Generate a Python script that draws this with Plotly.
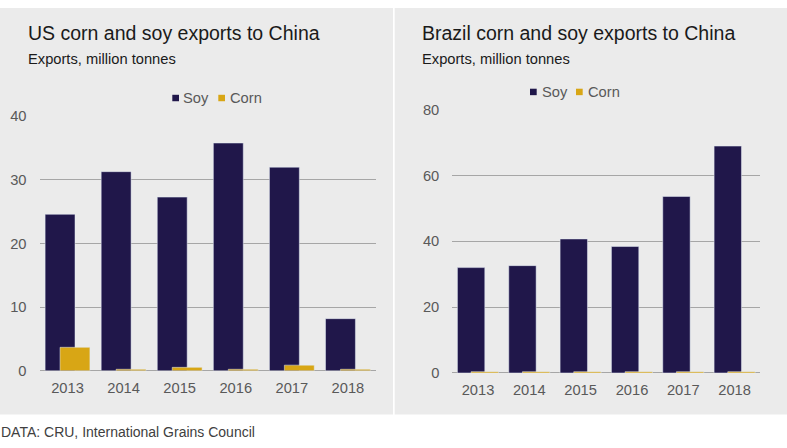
import plotly.graph_objects as go

years = ["2013", "2014", "2015", "2016", "2017", "2018"]
us_soy = [24.6, 31.3, 27.3, 35.8, 32.0, 8.2]
us_corn = [3.7, 0.25, 0.55, 0.25, 0.9, 0.25]
br_soy = [32.0, 32.6, 40.7, 38.4, 53.6, 68.9]
br_corn = [0.4, 0.4, 0.4, 0.4, 0.4, 0.4]
us_ticks = [0, 10, 20, 30, 40]
br_ticks = [0, 20, 40, 60, 80]

W, H = 787, 448
SOY = "#20174a"
CORN = "#d8a615"
BG = "#ebebeb"
GRID = "#a6a6a6"
FONT = "Liberation Sans, Arial, sans-serif"
TICKC = "#595959"


def px(x):
    return x / W


def py(y):
    return 1 - y / H


BAR_W = 0.533
SOY_OFF = -0.4
CORN_OFF = -0.134

fig = go.Figure()
fig.add_trace(go.Bar(x=years, y=us_soy, name="Soy", marker_color=SOY,
                     width=BAR_W, offset=SOY_OFF, xaxis="x", yaxis="y",
                     showlegend=False))
fig.add_trace(go.Bar(x=years, y=us_corn, name="Corn", marker_color=CORN,
                     width=BAR_W, offset=CORN_OFF, xaxis="x", yaxis="y",
                     showlegend=False))
fig.add_trace(go.Bar(x=years, y=br_soy, name="Soy", marker_color=SOY,
                     width=BAR_W, offset=SOY_OFF, xaxis="x2", yaxis="y2",
                     showlegend=False))
fig.add_trace(go.Bar(x=years, y=br_corn, name="Corn", marker_color=CORN,
                     width=BAR_W, offset=CORN_OFF, xaxis="x2", yaxis="y2",
                     showlegend=False))

xcommon = dict(type="category", showgrid=False, zeroline=False, showline=False,
               ticks="", tickfont=dict(family=FONT, size=14.7, color=TICKC),
               ticklabelstandoff=6, fixedrange=True)
ycommon = dict(showgrid=True, gridcolor=GRID, gridwidth=1, zeroline=True,
               zerolinecolor=GRID, zerolinewidth=1, showline=False, ticks="",
               tickfont=dict(family=FONT, size=14.7, color=TICKC),
               ticklabelstandoff=12, fixedrange=True)

fig.update_layout(
    autosize=True,
    margin=dict(l=0, r=0, t=0, b=0),
    paper_bgcolor="white",
    plot_bgcolor="rgba(0,0,0,0)",
    barmode="overlay",
    showlegend=False,
    xaxis=dict(domain=[px(39.5), px(376)], anchor="y", **xcommon),
    yaxis=dict(domain=[py(376.3), py(112.3)], anchor="x", range=[0, 40],
               tickvals=us_ticks, **ycommon),
    xaxis2=dict(domain=[px(452.3), px(760.3)], anchor="y2", **xcommon),
    yaxis2=dict(domain=[py(378.5), py(105.3)], anchor="x2", range=[0, 80],
                tickvals=br_ticks, **ycommon),
)

shapes = [
    dict(type="rect", xref="paper", yref="paper", x0=0, x1=px(393),
         y0=py(421.5), y1=1, fillcolor=BG, line_width=0, layer="below"),
    dict(type="rect", xref="paper", yref="paper", x0=px(394.7), x1=1,
         y0=py(421.5), y1=1, fillcolor=BG, line_width=0, layer="below"),
]


def swatch(x0, y0, color):
    return dict(type="rect", xref="paper", yref="paper", x0=px(x0), x1=px(x0 + 6.7),
                y0=py(y0 + 6.7), y1=py(y0), fillcolor=color, line_width=0)


shapes += [swatch(172.3, 90, SOY), swatch(218.3, 90, CORN),
           swatch(530, 83.7, SOY), swatch(576, 83.7, CORN)]
fig.update_layout(shapes=shapes)

ann = []


def text(x, y, s, size, color, xanchor="left"):
    ann.append(dict(xref="paper", yref="paper", x=px(x), y=py(y), text=s,
                    showarrow=False, xanchor=xanchor, yanchor="middle",
                    font=dict(family=FONT, size=size, color=color)))


text(26, 26, "US corn and soy exports to China", 19.5, "#1a1a1a")
text(26, 53, "Exports, million tonnes", 14.7, "#1a1a1a")
text(420, 26, "Brazil corn and soy exports to China", 19.5, "#1a1a1a")
text(420, 53, "Exports, million tonnes", 14.7, "#1a1a1a")
text(181, 93.3, "Soy", 14.7, TICKC)
text(227.5, 93.3, "Corn", 14.7, TICKC)
text(539.5, 87, "Soy", 14.7, TICKC)
text(585.5, 87, "Corn", 14.7, TICKC)
text(-1, 440, "DATA: CRU, International Grains Council", 14, "#404040")

fig.update_layout(annotations=ann)

fig.write_html(
    "out.html",
    config={"displayModeBar": False, "staticPlot": True, "responsive": True},
    default_width="100vw",
    default_height="100vh;position:fixed;top:0;left:0",
)
